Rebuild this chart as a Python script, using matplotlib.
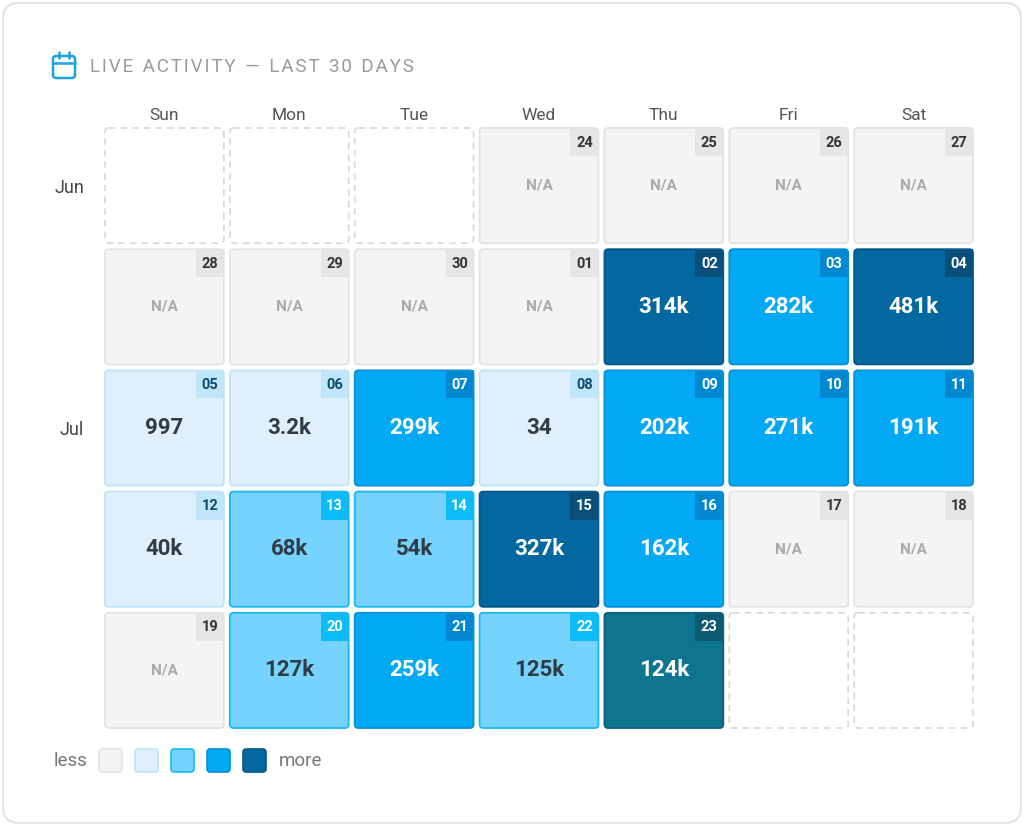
import matplotlib.pyplot as plt
from matplotlib.patches import FancyBboxPatch, Rectangle

plt.rcParams['font.family'] = ['Roboto', 'DejaVu Sans']

days = ["Sun", "Mon", "Tue", "Wed", "Thu", "Fri", "Sat"]
months = ["Jun", "Jul"]
month_rows = [0, 2]
first_weekday = 3  # Jun 24 falls on a Wednesday
dates = ["24", "25", "26", "27", "28", "29", "30",
         "01", "02", "03", "04", "05", "06", "07", "08", "09", "10", "11",
         "12", "13", "14", "15", "16", "17", "18", "19", "20", "21", "22", "23"]
values = [None, None, None, None, None, None, None, None,
          314000, 282000, 481000, 997, 3200, 299000, 34, 202000, 271000, 191000,
          40000, 68000, 54000, 327000, 162000, None, None, None,
          127000, 259000, 125000, 124000]
thresholds = [50000, 150000, 300000]
today = "23"

# fill, edge, tag bg, tag text, value text
levels = [
    ("#f4f4f4", "#e3e3e3", "#e6e6e6", "#333333", "#aaaaaa"),
    ("#dff0fc", "#bfe4f8", "#bfe6fb", "#0c4a6e", "#333b42"),
    ("#76d3fd", "#18b8f4", "#0bbcf8", "#ffffff", "#2f3b45"),
    ("#03a9f4", "#0290d6", "#0288d1", "#ffffff", "#ffffff"),
    ("#03689f", "#05598a", "#0a4f7a", "#ffffff", "#ffffff"),
]
today_style = ("#0e7490", "#0b6078", "#0d5a70", "#ffffff", "#ffffff")


def fmt(v):
    if v is None:
        return "N/A"
    if v < 1000:
        return str(v)
    if v < 10000:
        return f"{v / 1000:.1f}k"
    return f"{round(v / 1000)}k"


def level_of(v):
    if v is None:
        return 0
    lvl = 1
    for t in thresholds:
        if v >= t:
            lvl += 1
    return lvl


fig = plt.figure(figsize=(10.24, 8.26), dpi=100)
fig.patch.set_facecolor("white")

# background axes in pixel units for card, title and legend
bg = fig.add_axes([0, 0, 1, 1])
bg.set_xlim(0, 1024)
bg.set_ylim(826, 0)
bg.axis("off")
bg.add_patch(FancyBboxPatch((3, 3), 1018, 820, boxstyle="round,pad=0,rounding_size=16",
                            fc="white", ec="#e4e4e4", lw=1.5))

# calendar icon
ic = "#1aa3e8"
bg.add_patch(FancyBboxPatch((53, 56), 22, 22, boxstyle="round,pad=0,rounding_size=3",
                            fc="none", ec=ic, lw=1.8))
bg.plot([53, 75], [63, 63], color=ic, lw=1.8)
bg.plot([59, 59], [52, 58], color=ic, lw=1.8, solid_capstyle="round")
bg.plot([69, 69], [52, 58], color=ic, lw=1.8, solid_capstyle="round")
bg.text(90, 67, "L I V E   A C T I V I T Y   —   L A S T   3 0   D A Y S".replace("   ", "\u2002").replace(" ", "\u200a"),
        fontsize=13.5, color="#9a9a9a", va="center", ha="left")

# legend
bg.text(87, 761, "less", fontsize=13.5, color="#777777", ha="right", va="center")
for i, lv in enumerate(levels):
    bg.add_patch(FancyBboxPatch((99 + 36 * i, 749), 23, 23, boxstyle="round,pad=0,rounding_size=3",
                                fc=lv[0], ec=lv[1], lw=1.2))
bg.text(279, 761, "more", fontsize=13.5, color="#777777", ha="left", va="center")

# grid axes, one data unit per calendar cell
ax = fig.add_axes([102 / 1024, 1 - 731 / 826, 874 / 1024, 606 / 826])
ax.set_xlim(0, 7)
ax.set_ylim(5, 0)
ax.axis("off")

gx = 3 / 124.86
gy = 3 / 121.2
tw = 28 / 124.86
th = 28 / 121.2

for c, d in enumerate(days):
    ax.text(c + 0.5, -0.08, d, ha="center", va="center", fontsize=12.5, color="#555555", clip_on=False)
for m, r in zip(months, month_rows):
    ax.text(-0.145, r + 0.52, m, ha="right", va="center", fontsize=13, color="#444444", clip_on=False)

n_cells = 5 * 7
for k in range(n_cells):
    r, c = divmod(k, 7)
    i = k - first_weekday
    x0, y0 = c + gx, r + gy
    w, h = 1 - 2 * gx, 1 - 2 * gy
    if i < 0 or i >= len(dates):
        ax.add_patch(FancyBboxPatch((x0, y0), w, h, boxstyle="round,pad=0,rounding_size=0.03",
                                    fc="white", ec="#d8d8d8", lw=1.2, ls=(0, (4, 3))))
        continue
    v = values[i]
    st = today_style if dates[i] == today else levels[level_of(v)]
    ax.add_patch(FancyBboxPatch((x0, y0), w, h, boxstyle="round,pad=0,rounding_size=0.03",
                                fc=st[0], ec="none"))
    ax.add_patch(Rectangle((x0 + w - tw, y0), tw, th, fc=st[2], ec="none"))
    ax.add_patch(FancyBboxPatch((x0, y0), w, h, boxstyle="round,pad=0,rounding_size=0.03",
                                fc="none", ec=st[1], lw=1.3))
    ax.text(x0 + w - tw / 2, y0 + th / 2 + 0.005, dates[i], ha="center", va="center",
            fontsize=10.5, fontweight="bold", color=st[3])
    if v is None:
        ax.text(c + 0.5, r + 0.5, "N/A", ha="center", va="center", fontsize=11,
                fontweight="bold", color=st[4])
    else:
        ax.text(c + 0.5, r + 0.5, fmt(v), ha="center", va="center", fontsize=16,
                fontweight="bold", color=st[4])

fig.savefig("out.png", dpi=100)
